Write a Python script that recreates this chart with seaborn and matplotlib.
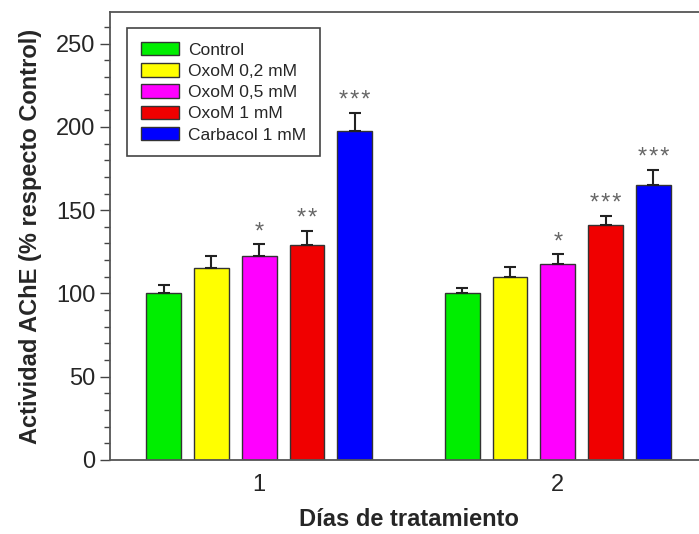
import matplotlib
matplotlib.use("Agg")
import matplotlib.pyplot as plt
import seaborn as sns
import pandas as pd
from matplotlib.ticker import MultipleLocator

days = ["1", "2"]
treatments = ["Control", "OxoM 0,2 mM", "OxoM 0,5 mM", "OxoM 1 mM", "Carbacol 1 mM"]
values_day1 = [100, 115.3, 122.4, 129.1, 197.7]
values_day2 = [100, 110.0, 117.7, 141.2, 165.4]
err_day1 = [5.0, 7.3, 7.5, 8.5, 10.7]
err_day2 = [3.0, 5.8, 6.2, 5.5, 8.9]
stars_day1 = ["", "", "*", "**", "***"]
stars_day2 = ["", "", "*", "***", "***"]
colors = ["#00ee00", "#ffff00", "#ff00ff", "#f00000", "#0000ff"]

sns.set_theme(style="ticks")
plt.rcParams["font.family"] = ["Liberation Sans", "DejaVu Sans"]

rows = []
for d, vals, errs, st in [(days[0], values_day1, err_day1, stars_day1),
                          (days[1], values_day2, err_day2, stars_day2)]:
    for t, v, e, s in zip(treatments, vals, errs, st):
        rows.append({"day": d, "treatment": t, "value": v, "err": e, "star": s})
df = pd.DataFrame(rows)

fig = plt.figure(figsize=(6.99, 5.34), dpi=100)
ax = fig.add_axes([110 / 699, 74 / 534, 597 / 699, 448 / 534])

sns.barplot(data=df, x="day", y="value", hue="treatment", hue_order=treatments,
            order=days, palette=colors, errorbar=None, gap=0.27, width=0.8,
            edgecolor="#333333", linewidth=1.0, saturation=1, ax=ax)

# error bars (upper only) and significance stars
for ci, t in enumerate(treatments):
    cont = ax.containers[ci]
    sub = df[df["treatment"] == t].set_index("day").loc[days]
    for patch, (_, r) in zip(cont.patches, sub.iterrows()):
        xc = patch.get_x() + patch.get_width() / 2
        top = patch.get_height()
        ax.errorbar([xc], [top], yerr=[[0], [r["err"]]], fmt="none",
                    ecolor="#222222", elinewidth=1.5, capsize=4.5, capthick=1.5, zorder=1)
        if r["star"]:
            ax.text(xc, top + r["err"] + 0.3, "\u200a".join(r["star"]), ha="center",
                    va="bottom", fontsize=17, color="#666666")

ax.set_ylim(0, 269)
ax.set_xlim(-0.5, 1.5)
ax.yaxis.set_major_locator(MultipleLocator(50))
ax.yaxis.set_minor_locator(MultipleLocator(10))
ax.tick_params(axis="y", which="major", direction="out", length=7, width=1,
               labelsize=17, color="#444444", right=True, labelright=False)
ax.tick_params(axis="y", which="minor", direction="out", length=4, width=1,
               color="#444444", right=True)
ax.tick_params(axis="x", length=0, labelsize=17, pad=10)
for sp in ax.spines.values():
    sp.set_color("#555555")
    sp.set_linewidth(1.3)

ax.set_xlabel("Días de tratamiento", fontsize=17, fontweight="bold", labelpad=9)
ax.set_ylabel("Actividad AChE (% respecto Control)", fontsize=17, fontweight="bold", labelpad=10)

leg = ax.legend(loc="upper left", bbox_to_anchor=(0.0285, 0.964), borderaxespad=0,
                fontsize=12.5, frameon=True, fancybox=False, edgecolor="#444444",
                framealpha=1, handlelength=2.2, handleheight=0.8, labelspacing=0.32,
                borderpad=0.8, handletextpad=0.5, title=None)
leg.get_frame().set_linewidth(1.2)

fig.savefig("out.png", dpi=100)
